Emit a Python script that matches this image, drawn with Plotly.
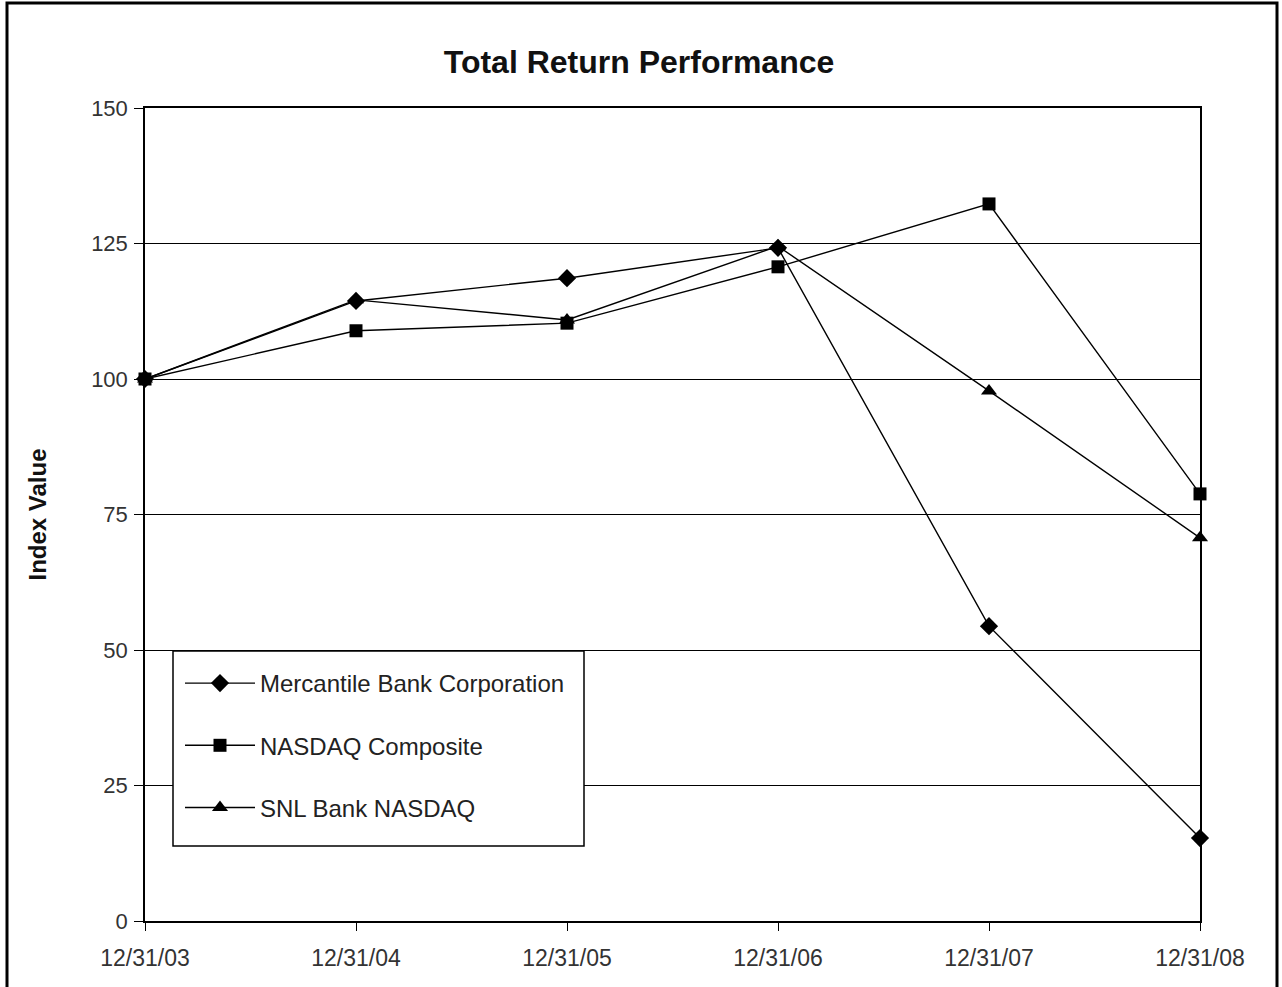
import plotly.graph_objects as go

dates = ["12/31/03", "12/31/04", "12/31/05", "12/31/06", "12/31/07", "12/31/08"]
mercantile = [100, 114.4, 118.6, 124.2, 54.4, 15.3]
nasdaq = [100, 108.9, 110.3, 120.7, 132.3, 78.8]
snl_bank = [100, 114.6, 110.9, 124.5, 97.8, 70.7]
y_ticks = [0, 25, 50, 75, 100, 125, 150]

xpos = list(range(len(dates)))

fig = go.Figure()
series = [
    ("Mercantile Bank Corporation", mercantile, "diamond", 14),
    ("NASDAQ Composite", nasdaq, "square", 13),
    ("SNL Bank NASDAQ", snl_bank, "triangle-up", 14),
]
for i, (name, vals, sym, sz) in enumerate(series):
    fig.add_trace(go.Scatter(
        x=xpos, y=vals, name=name, mode="lines+markers",
        line=dict(color="black", width=1.4),
        marker=dict(symbol=sym, size=sz, color="black"),
        legendgroup=f"g{i}", cliponaxis=False,
    ))

W, H = 1282, 987
L, R, T, B = 145, 1200, 108, 921
pw, ph = R - L, B - T

def px(x):
    return (x - L) / pw

def py(y):
    return (B - y) / ph

fig.update_layout(
    width=W, height=H,
    margin=dict(l=L, r=W - R, t=T, b=H - B),
    paper_bgcolor="white", plot_bgcolor="white",
    font=dict(family="Arial, Liberation Sans, sans-serif", color="#222"),
    title=dict(text="<b>Total Return Performance</b>", x=639 / W, xanchor="center",
               y=1 - 62 / H, yanchor="middle", font=dict(size=32, color="#111")),
    showlegend=True,
    legend=dict(x=px(180), y=py(661), xanchor="left", yanchor="top",
                borderwidth=0, bgcolor="rgba(0,0,0,0)",
                font=dict(size=24, color="#222"), traceorder="grouped",
                tracegroupgap=28, itemwidth=70),
    xaxis=dict(range=[0, 5], tickvals=xpos, ticktext=dates, showgrid=False,
               showline=True, linecolor="black", linewidth=1.5, mirror=True,
               ticks="outside", ticklen=8, tickcolor="black", ticklabelstandoff=8,
               tickfont=dict(size=23, color="#333"), zeroline=False),
    yaxis=dict(range=[0, 150], tickvals=y_ticks, showgrid=True, gridcolor="black",
               gridwidth=1.3, showline=True, linecolor="black", linewidth=1.5,
               mirror=True, ticks="outside", ticklen=9, tickcolor="black",
               ticklabelstandoff=2,
               tickfont=dict(size=22, color="#333"), zeroline=False,
               title=dict(text="<b>Index Value</b>", font=dict(size=24, color="#111"),
                          standoff=38)),
)

# legend box
fig.add_shape(type="rect", xref="paper", yref="paper",
              x0=px(173), x1=px(584), y0=py(846), y1=py(651),
              line=dict(color="black", width=1.5), fillcolor="white", layer="above")

# outer frame
fig.add_shape(type="rect", xref="paper", yref="paper",
              x0=px(7), x1=px(1277), y0=py(995), y1=py(3),
              line=dict(color="black", width=3), layer="above")

fig.write_html(
    "out.html",
    config={"displayModeBar": False},
    post_script="document.body.style.margin='0';document.body.style.overflow='hidden';",
)
